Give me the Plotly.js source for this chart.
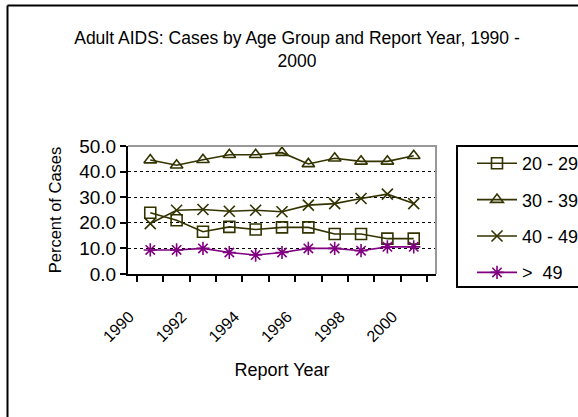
<!DOCTYPE html>
<html>
<head>
<meta charset="utf-8">
<script src="https://cdn.plot.ly/plotly-3.0.1.min.js"></script>
<style>
html,body{margin:0;padding:0;background:#fff;}
#chart{width:578px;height:417px;}
</style>
</head>
<body>
<div id="chart"></div>
<script>
var years = ['1990','1991','1992','1993','1994','1995','1996','1997','1998','1999','2000'];
var tickLabels = ['1990','','1992','','1994','','1996','','1998','','2000'];
var age20to29 = [23.9, 21.0, 16.5, 18.4, 17.4, 18.2, 18.2, 15.6, 15.6, 13.8, 13.8];
var age30to39 = [44.5, 42.5, 44.6, 46.6, 46.6, 47.4, 43.0, 45.2, 44.0, 44.0, 46.2];
var age40to49 = [19.7, 24.9, 25.2, 24.5, 24.9, 24.3, 26.9, 27.5, 29.5, 31.2, 27.5];
var ageOver49 = [9.4, 9.4, 10.0, 8.4, 7.4, 8.4, 10.0, 10.0, 9.1, 10.6, 10.6];
var seriesNames = ['20 - 29', '30 - 39', '40 - 49', '>\u00a0\u00a049'];

var FONT = '"Liberation Sans", Arial, sans-serif';
var olive = '#333300', purple = '#800080';

function tr(y, name, sym, color, grp) {
  return {
    x: years, y: y, name: name, type: 'scatter', mode: 'lines+markers',
    legendgroup: grp,
    line: {color: color, width: 1.6},
    marker: {symbol: sym, size: 11, color: color, line: {color: color, width: 1.6}}
  };
}
var data = [
  tr(age20to29, seriesNames[0], 'square-open', olive, 'a'),
  tr(age30to39, seriesNames[1], 'triangle-up-open', olive, 'b'),
  tr(age40to49, seriesNames[2], 'x-thin-open', olive, 'c'),
  tr(ageOver49, seriesNames[3], 'asterisk-open', purple, 'd')
];

var W = 578, H = 417;
var L = 128, R = 436, T = 146, B = 274;
function px(x){ return (x - L) / (R - L); }
function py(y){ return (B - y) / (B - T); }

var layout = {
  width: W, height: H,
  margin: {l: L, r: W - R, t: T, b: H - B, autoexpand: false},
  paper_bgcolor: '#fff', plot_bgcolor: '#fff',
  font: {family: FONT, size: 17, color: '#000'},
  title: {
    text: 'Adult AIDS: Cases by Age Group and Report Year, 1990 -<br>2000',
    font: {family: FONT, size: 17.5, color: '#000'},
    x: 297 / W, xref: 'container', xanchor: 'center',
    y: 1 - 44/H, yref: 'container', yanchor: 'top'
  },
  xaxis: {
    type: 'category', automargin: false,
    tickmode: 'array', tickvals: years, ticktext: tickLabels,
    tickson: 'boundaries', ticks: 'outside', ticklen: 6, tickwidth: 2, tickcolor: '#000',
    tickangle: -45, ticklabelstandoff: 25, ticklabelshift: -21,
    showline: true, linecolor: '#000', linewidth: 2,
    showgrid: false, zeroline: false,
    tickfont: {family: FONT, size: 16},
    title: {text: 'Report Year', font: {family: FONT, size: 18}, standoff: 19},
    fixedrange: true
  },
  yaxis: {
    range: [0, 50], dtick: 10, tickformat: '.1f', automargin: false,
    ticks: 'outside', ticklen: 6, tickwidth: 2, tickcolor: '#000',
    showline: true, linecolor: '#000', linewidth: 2,
    showgrid: true, gridcolor: '#000', gridwidth: 1, griddash: 'dot',
    zeroline: false,
    tickfont: {family: FONT, size: 19},
    title: {text: 'Percent of Cases', font: {family: FONT, size: 16.5}, standoff: 13},
    fixedrange: true
  },
  showlegend: true,
  legend: {
    xref: 'container', yref: 'container',
    x: 472 / W, xanchor: 'left', y: 1 - 145 / H, yanchor: 'top',
    bgcolor: 'rgba(0,0,0,0)', borderwidth: 0,
    font: {family: FONT, size: 18},
    tracegroupgap: 10, itemwidth: 40, maxheight: 300
  },
  shapes: [
    {type: 'line', xref: 'paper', yref: 'paper', x0: px(436), x1: px(436), y0: 0, y1: 1, line: {color: '#999', width: 2}},
    {type: 'line', xref: 'paper', yref: 'paper', x0: 0, x1: px(437), y0: 1, y1: 1, line: {color: '#999', width: 2}},
    {type: 'rect', xref: 'paper', yref: 'paper', x0: px(457), x1: px(600), y0: py(287), y1: py(146), line: {color: '#000', width: 2}},
    {type: 'line', xref: 'paper', yref: 'paper', x0: px(7.5), x1: px(7.5), y0: py(5.5), y1: py(430), line: {color: '#000', width: 2}},
    {type: 'line', xref: 'paper', yref: 'paper', x0: px(7.5), x1: px(600), y0: py(5.5), y1: py(5.5), line: {color: '#000', width: 2}}
  ]
};
Plotly.newPlot('chart', data, layout, {displayModeBar: false, staticPlot: true});
</script>
</body>
</html>
